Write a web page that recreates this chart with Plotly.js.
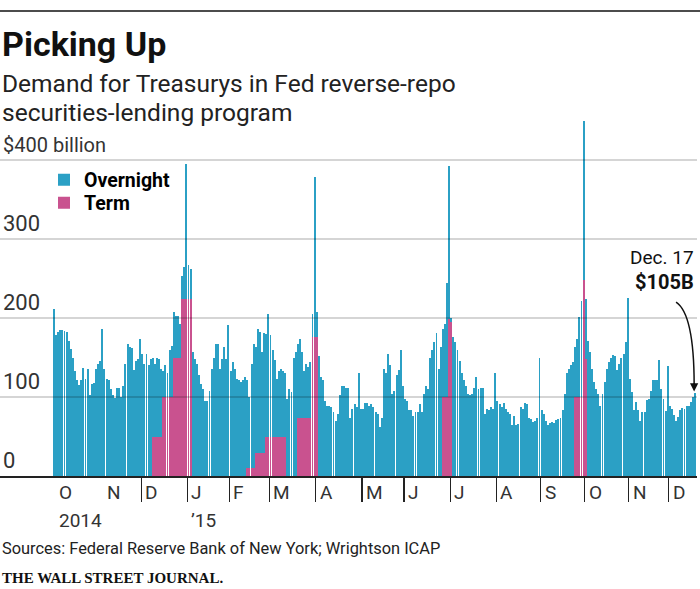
<!DOCTYPE html>
<html><head><meta charset="utf-8">
<script src="https://cdn.plot.ly/plotly-3.0.1.min.js"></script>
<style>html,body{margin:0;padding:0;background:#fff;}#chart{width:700px;height:589px;}</style>
</head><body><div id="chart"></div>
<script>
// ---- DATA (billions of dollars, one value per business day) ----
const overnight_2014_09 = [212];
const overnight_2014_10 = [178,182,185,185,184,182,171,161,150,133,121,115,121,137,123,136,103,117,118,135,142,145,186];
const overnight_2014_11 = [136,123,122,110,102,99,111,111,100,114,142,167,163,162,134,146,148,174];
const overnight_2014_12 = [155,142,155,140,148,100,92,100,98,86,33,40,31,59,65,58,54,53,44,29,40,171];
const term_2014_12      = [0,0,0,0,0,50,50,50,50,50,100,100,100,100,100,149,149,149,149,224,224,224];
const overnight_2015_01 = [43,38,157,148,142,128,117,110,95,95,108,136,150,167,167,136,148,163,148,191];
const term_2015_01      = [224,224,0,0,0,0,0,0,0,0,0,0,0,0,0,0,0,0,0,0];
const overnight_2015_02 = [133,144,136,123,121,119,121,125,111,90,132,157,134,157,153,128,152,130,155];
const term_2015_02      = [0,0,0,0,0,0,0,0,10,10,10,10,29,29,29,29,29,50,50];
const overnight_2015_03 = [128,109,97,73,83,85,83,81,98,110,106,150,157,93,100,83,59,68,64,70,29,203];
const term_2015_03      = [50,50,50,50,50,50,50,50,0,0,0,0,0,74,74,74,74,74,74,74,176,176];
const overnight_2015_04 = [31,152,125,121,95,89,89,87,81,69,79,102,114,114,112,111,74,85,91,87,130,85];
const term_2015_04      = [176,0,0,0,0,0,0,0,0,0,0,0,0,0,0,0,0,0,0,0,0,0];
const overnight_2015_05 = [85,92,93,89,91,87,81,79,62,74,136,131,154,141,104,108,128,134,160,114];
const overnight_2015_06 = [98,95,83,83,76,81,81,91,81,104,114,110,150,159,169,181,136,163,86,93,144,193];
const term_2015_06      = [0,0,0,0,0,0,0,0,0,0,0,0,0,0,0,0,0,0,100,100,100,199];
const overnight_2015_07 = [5,176,169,159,146,131,121,114,104,102,104,112,125,110,111,111,79,85,83,87,85,131];
const term_2015_07      = [195,0,0,0,0,0,0,0,0,0,0,0,0,0,0,0,0,0,0,0,0,0];
const overnight_2015_08 = [95,91,87,93,85,81,78,64,76,64,66,87,85,92,91,74,72,68,70,74,150];
const overnight_2015_09 = [84,79,70,65,67,68,67,71,72,74,83,104,131,136,140,144,63,74,101,122,202];
const term_2015_09      = [0,0,0,0,0,0,0,0,0,0,0,0,0,0,0,0,100,100,100,100,248];
const overnight_2015_10 = [76,171,157,136,119,110,104,89,104,119,136,144,149,153,152,134,142,149,155,170,225];
const term_2015_10      = [148,0,0,0,0,0,0,0,0,0,0,0,0,0,0,0,0,0,0,0,0];
const overnight_2015_11 = [123,106,83,94,83,70,81,81,96,98,108,121,121,121,147,110,97,82,139];
const overnight_2015_12 = [89,85,77,70,75,83,86,85,89,88,94,100,105];

const monthOvernight = [overnight_2014_09,overnight_2014_10,overnight_2014_11,overnight_2014_12,
  overnight_2015_01,overnight_2015_02,overnight_2015_03,overnight_2015_04,overnight_2015_05,
  overnight_2015_06,overnight_2015_07,overnight_2015_08,overnight_2015_09,overnight_2015_10,
  overnight_2015_11,overnight_2015_12];
const monthTerm = [null,null,null,term_2014_12,term_2015_01,term_2015_02,term_2015_03,term_2015_04,
  null,term_2015_06,term_2015_07,null,term_2015_09,term_2015_10,null,null];
// tick labels for months Oct 2014 .. Dec 2015
const monthLabels = ['O','N','D','J','F','M','A','M','J','J','A','S','O','N','D'];
const yearLabels = [{month:0,text:'2014'},{month:3,text:'\u201915'}];
const yTickVals = [0,100,200,300,400];
const yTickText = ['0','100','200','300','<span style="font-size:20px">$400 billion</span>'];
const lastLabelDate = 'Dec. 17';
const lastLabelValue = '$105B';

// ---- build series ----
const xs=[], ov=[], tm=[], monthStart=[];
let idx=0;
monthOvernight.forEach((arr,m)=>{
  monthStart.push(idx);
  const t = monthTerm[m];
  arr.forEach((v,i)=>{ xs.push(idx); ov.push(v); tm.push(t? t[i]:0); idx++; });
});
const tickVals = monthStart.slice(1).map(s=>s-0.5);
const lastI = xs[xs.length-1];
const lastV = ov[ov.length-1]+tm[tm.length-1];

// ---- geometry ----
const W=700,H=589,mL=0,mR=3,mT=116,mB=113;
const plotH=H-mT-mB, plotW=W-mL-mR;
const py = p => (H-mB-p)/plotH;
const px = p => (p-mL)/plotW;
const pitch=2.1016, firstCenter=54;
const xr0=-(firstCenter-mL)/pitch, xr1=xr0+plotW/pitch;
const yMax=400*plotH/(H-mB-160);

const FONT='Roboto';
const traces=[
  {type:'bar',x:xs,y:tm,name:'Term',marker:{color:'#c9528f',line:{width:0}},legend:'legend2',hoverinfo:'skip'},
  {type:'bar',x:xs,y:ov,name:'Overnight',marker:{color:'#2ba0c5',line:{width:0}},legend:'legend',hoverinfo:'skip'}
];

const shapes=[
  {type:'line',xref:'paper',yref:'paper',x0:0,x1:W/plotW,y0:py(11),y1:py(11),line:{color:'#111',width:1.5}}
];
yTickVals.slice(1).forEach(v=>shapes.push({type:'line',xref:'paper',x0:0,x1:1,yref:'y',y0:v,y1:v,
  line:{color:'rgba(0,0,0,0.22)',width:1.5},layer:'above'}));
shapes.push({type:'path',xref:'x',yref:'y',layer:'above',
  path:`M ${lastI-9} ${lastV+115} Q ${lastI-0.4} ${lastV+100} ${lastI-0.4} ${lastV+10}`,
  line:{color:'#111',width:1.5}});

const ann=[
  {text:'<b>Picking Up</b>',xref:'paper',yref:'paper',x:0,y:py(44),xanchor:'left',yanchor:'middle',showarrow:false,
   font:{family:FONT,size:34,color:'#111'}},
  {text:'Demand for Treasurys in Fed reverse-repo',xref:'paper',yref:'paper',x:0,y:py(83),xanchor:'left',yanchor:'middle',showarrow:false,
   font:{family:FONT,size:24.5,color:'#222'}},
  {text:'securities-lending program',xref:'paper',yref:'paper',x:0,y:py(112),xanchor:'left',yanchor:'middle',showarrow:false,
   font:{family:FONT,size:24.5,color:'#222'}},
  {text:'Sources: Federal Reserve Bank of New York; Wrightson ICAP',xref:'paper',yref:'paper',x:0,y:py(548),xanchor:'left',yanchor:'middle',showarrow:false,
   font:{family:FONT,size:16.4,color:'#222'}},
  {text:'<b>THE WALL STREET JOURNAL.</b>',xref:'paper',yref:'paper',x:0,y:py(578),xanchor:'left',yanchor:'middle',showarrow:false,
   font:{family:'Liberation Serif',size:15,color:'#111'}},
  {text:lastLabelDate,xref:'paper',yref:'paper',x:px(696),y:py(257),xanchor:'right',yanchor:'middle',showarrow:false,
   font:{family:FONT,size:19,color:'#111'}},
  {text:'<b>'+lastLabelValue+'</b>',xref:'paper',yref:'paper',x:px(696),y:py(282),xanchor:'right',yanchor:'middle',showarrow:false,
   font:{family:FONT,size:20,color:'#111'}},
  {text:'',x:lastI-0.4,y:lastV+2,xref:'x',yref:'y',showarrow:true,ax:0,ay:-10,arrowhead:2,arrowsize:1.1,arrowwidth:1.5,arrowcolor:'#111'}
];
monthLabels.forEach((t,i)=>ann.push({text:t,xref:'x',yref:'paper',x:tickVals[i],y:py(492),xanchor:'left',yanchor:'middle',
  xshift:2,showarrow:false,font:{family:FONT,size:19,color:'#333'}}));
yearLabels.forEach(o=>ann.push({text:o.text,xref:'x',yref:'paper',x:tickVals[o.month],y:py(520),xanchor:'left',yanchor:'middle',
  xshift:2,showarrow:false,font:{family:FONT,size:19,color:'#333'}}));

const legendFont={family:FONT,size:19.5,color:'#000',weight:'bold'};
const layout={
  width:W,height:H,margin:{l:mL,r:mR,t:mT,b:mB,pad:0},
  paper_bgcolor:'#fff',plot_bgcolor:'#fff',
  barmode:'stack',bargap:0.08,showlegend:true,
  legend:{x:px(44),xanchor:'left',y:py(180),yanchor:'middle',bgcolor:'rgba(0,0,0,0)',itemwidth:30,font:legendFont},
  legend2:{x:px(44),xanchor:'left',y:py(203),yanchor:'middle',bgcolor:'rgba(0,0,0,0)',itemwidth:30,font:legendFont},
  xaxis:{range:[xr0,xr1],tickmode:'array',tickvals:tickVals,ticktext:tickVals.map(()=>''),ticks:'outside',ticklen:24,
    tickwidth:1.3,tickcolor:'#222',showticklabels:false,showline:true,linecolor:'#222',linewidth:1.5,showgrid:false,zeroline:false,fixedrange:true},
  yaxis:{range:[0,yMax],tickmode:'array',tickvals:yTickVals,ticktext:yTickText,ticklabelposition:'inside top',ticks:'',
    showgrid:false,zeroline:false,showline:false,tickfont:{family:FONT,size:22,color:'#333'},fixedrange:true},
  shapes:shapes,annotations:ann
};
Plotly.newPlot('chart',traces,layout,{displayModeBar:false,staticPlot:true});
</script></body></html>
